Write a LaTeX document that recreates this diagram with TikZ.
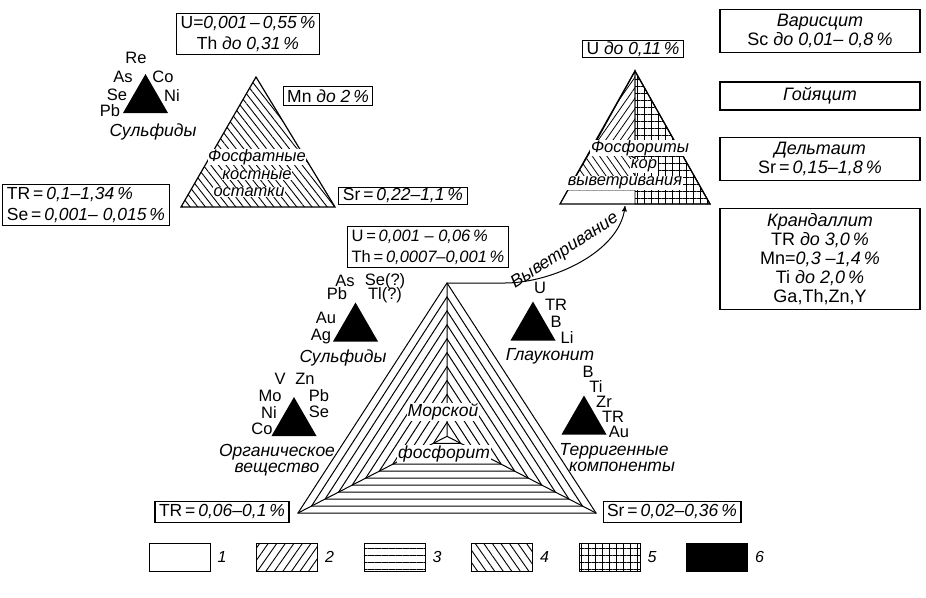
\documentclass[tikz,border=0pt]{standalone}
\usepackage{fontspec}
\setmainfont{Liberation Sans}
\usepackage{tikz}
\usetikzlibrary{arrows, calc, patterns.meta}

\begin{document}
\begin{tikzpicture}[x=1pt, y=-1pt, >=stealth',
    databox/.style={rectangle, draw, line width=1.1pt, inner xsep=4pt, inner ysep=3pt, font=\fontsize{17.5}{21}\selectfont},
    mineral/.style={rectangle, draw, line width=1.1pt, minimum width=200pt, inner ysep=5pt, align=center, font=\fontsize{18}{19}\selectfont},
    elem/.style={inner sep=0pt, font=\fontsize{16.5}{16}\selectfont},
    tag/.style={inner sep=0pt, align=center, font=\fontsize{17.5}{16}\selectfont\itshape},
    inlay/.style={fill=white, inner sep=0.6pt, font=\fontsize{16.5}{16}\selectfont\itshape},
    keybox/.style={draw, line width=1pt, minimum width=61pt, minimum height=28pt, inner sep=0pt},
    keynum/.style={font=\fontsize{16}{16}\selectfont\itshape, inner sep=0pt, xshift=7pt},
    blacktri/.pic={\fill (-22.5,19.5) -- (22.5,19.5) -- (0,-19.5) -- cycle;}
]
\useasboundingbox (0,0) rectangle (926,597);

% Bone remains (top left)
\coordinate (boneA) at (181,207);
\coordinate (boneB) at (335,207);
\coordinate (boneC) at (256,77);
\draw[line width=1.2pt, pattern={Lines[angle=-52, distance=6pt, line width=0.9pt]}] (boneA) -- (boneB) -- (boneC) -- cycle;
\node (bone1) [inlay] at (257,157) {Фосфатные};
\node (bone2) [inlay] at (257,175) {костные};
\node (bone3) [inlay] at (249,192) {остатки};

\node (topbox) [databox, align=center] at (248,34) {U=\textit{0,001\,–\,0,55\,\%}\\Th \textit{до 0,31\,\%}};
\node (mnbox) [databox] at (328,96) {Mn \textit{до 2\,\%}};
\node (srbone) [databox, inner ysep=1pt] at (403,196) {Sr\,=\,\textit{0,22–1,1\,\%}};
\node (trbone) [databox, align=left] at (86,205) {TR\,=\,\textit{0,1–1,34\,\%}\\Se\,=\,\textit{0,001– 0,015\,\%}};

% Sulfides (top left)
\pic at (145.5,93.5) {blacktri};
\node (re1) [elem] at (136,58) {Re};
\node (as1) [elem] at (123,77) {As};
\node (co1) [elem] at (163,77) {Co};
\node (se1) [elem] at (117,95) {Se};
\node (ni1) [elem] at (172,96) {Ni};
\node (pb1) [elem] at (110,111) {Pb};
\node (sulf1) [tag] at (153,132) {Сульфиды};

% Weathering crust phosphorites (top right)
\coordinate (wtop) at (635,71);
\coordinate (wleft) at (560,204);
\coordinate (wright) at (710,204);
\coordinate (wbase) at (635,204);
\coordinate (wl1) at (597,140);
\coordinate (wm1) at (635,158);
\coordinate (wl2) at (568,190);
\coordinate (wm2) at (635,190);
\draw[line width=0.9pt, pattern={Hatch[distance=7pt, line width=0.8pt]}] (wtop) -- (wbase) -- (wright) -- cycle;
\draw[line width=0.9pt, pattern={Lines[angle=55, distance=6pt, line width=0.8pt]}] (wtop) -- (wl1) -- (wm1) -- cycle;
\draw[line width=0.9pt, pattern={Lines[angle=-55, distance=6pt, line width=0.8pt]}] (wl1) -- (wl2) -- (wm2) -- (wm1) -- cycle;
\draw[line width=1.3pt] (wleft) -- (wright) -- (wtop) -- cycle;
\node (crust1) [inlay] at (640,148) {Фосфориты};
\node (crust2) [inlay] at (644,166) {кор};
\node (crust3) [inlay] at (625,183) {выветривания};
\node (ubox) [databox, inner ysep=1pt] at (633,49) {U \textit{до 0,11\,\%}};

% Minerals (right column)
\node (varis) [mineral] at (820,31) {\textit{Варисцит}\\Sc \textit{до 0,01– 0,8\,\%}};
\node (goya) [mineral, minimum height=28pt] at (820,96) {\textit{Гойяцит}};
\node (delta) [mineral] at (820,159) {\textit{Дельтаит}\\Sr\,=\,\textit{0,15–1,8\,\%}};
\node (crand) [mineral, anchor=north] at (820,208) {\textit{Крандаллит}\\TR \textit{до 3,0\,\%}\\Mn=\textit{0,3 –1,4\,\%}\\Ti \textit{до 2,0\,\%}\\Ga,Th,Zn,Y};

% Marine phosphorite (main triangle)
\coordinate (seaA) at (298,513);
\coordinate (seaB) at (596,513);
\coordinate (seaC) at (447,283);
\coordinate (seaG) at (447,436.3);
\foreach \k in {1,...,11}
  \draw[line width=1pt] ($(seaG)!\k/11!(seaA)$) -- ($(seaG)!\k/11!(seaB)$) -- ($(seaG)!\k/11!(seaC)$) -- cycle;
\draw[line width=1pt] (seaG) -- (seaA) (seaG) -- (seaB) (seaG) -- (seaC);
\node (sea1) [inlay, font=\fontsize{17.5}{17}\selectfont\itshape] at (443,412) {Морской};
\node (sea2) [inlay, font=\fontsize{17.5}{17}\selectfont\itshape] at (444,454) {фосфорит};

\node (seabox) [databox, align=left, font=\fontsize{16.5}{21}\selectfont] at (428,247) {U\,=\,\textit{0,001 – 0,06\,\%}\\Th\,=\,\textit{0,0007–0,001\,\%}};
\node (trsea) [databox] at (222,512) {TR\,=\,\textit{0,06–0,1\,\%}};
\node (srsea) [databox] at (672,512) {Sr\,=\,\textit{0,02–0,36\,\%}};

% Weathering arrow
\coordinate (wend) at ($(wbase)+(-10,2)$);
\draw[->, line width=1pt] (seaC) -- ($(seaC)+(58,0)$) .. controls (552,283) and (620,252) .. (wend);
\node (weather) [tag, rotate=33] at (565,251) {Выветривание};

% Sulfides (middle)
\pic at (355.5,322) {blacktri};
\node (as2) [elem] at (345,281) {As};
\node (se2) [elem] at (385,281) {Se(?)};
\node (pb2) [elem] at (337,294) {Pb};
\node (tl2) [elem] at (385,295) {Tl(?)};
\node (au2) [elem] at (326,318) {Au};
\node (ag2) [elem] at (321,337) {Ag};
\node (sulf2) [tag] at (343,358) {Сульфиды};

% Glauconite
\pic at (533,321) {blacktri};
\node (u3) [elem] at (540,288) {U};
\node (tr3) [elem] at (556,305) {TR};
\node (b3) [elem] at (556,322) {B};
\node (li3) [elem] at (567,338) {Li};
\node (glau) [tag] at (550,356) {Глауконит};

% Organic matter
\pic at (294,416.5) {blacktri};
\node (v4) [elem] at (280,379) {V};
\node (zn4) [elem] at (305,379) {Zn};
\node (mo4) [elem] at (270,396) {Mo};
\node (pb4) [elem] at (319,396) {Pb};
\node (ni4) [elem] at (269,413) {Ni};
\node (se4) [elem] at (319,412) {Se};
\node (co4) [elem] at (262,429) {Co};
\node (organic) [tag] at (277,460) {Органическое\\вещество};

% Terrigenous components
\pic at (584,415) {blacktri};
\node (b5) [elem] at (588,372) {B};
\node (ti5) [elem] at (596,387) {Ti};
\node (zr5) [elem] at (604,402) {Zr};
\node (tr5) [elem] at (613,417) {TR};
\node (au5) [elem] at (619,432) {Au};
\node (terr) [tag] at (614,458) {Терригенные\\\hspace*{16pt}компоненты};

% Legend
\node (key1) [keybox, label={[keynum]right:1}] at (179.5,557) {};
\node (key2) [keybox, pattern={Lines[angle=55, distance=7pt, line width=0.9pt]}, label={[keynum]right:2}] at (287,557) {};
\node (key3) [keybox, pattern={Lines[angle=0, distance=7pt, line width=0.9pt]}, label={[keynum]right:3}] at (394.5,557) {};
\node (key4) [keybox, pattern={Lines[angle=-55, distance=7pt, line width=0.9pt]}, label={[keynum]right:4}] at (502,557) {};
\node (key5) [keybox, pattern={Hatch[distance=7pt, line width=0.8pt]}, label={[keynum]right:5}] at (609.5,557) {};
\node (key6) [keybox, fill=black, label={[keynum]right:6}] at (717,557) {};

\end{tikzpicture}
\end{document}
